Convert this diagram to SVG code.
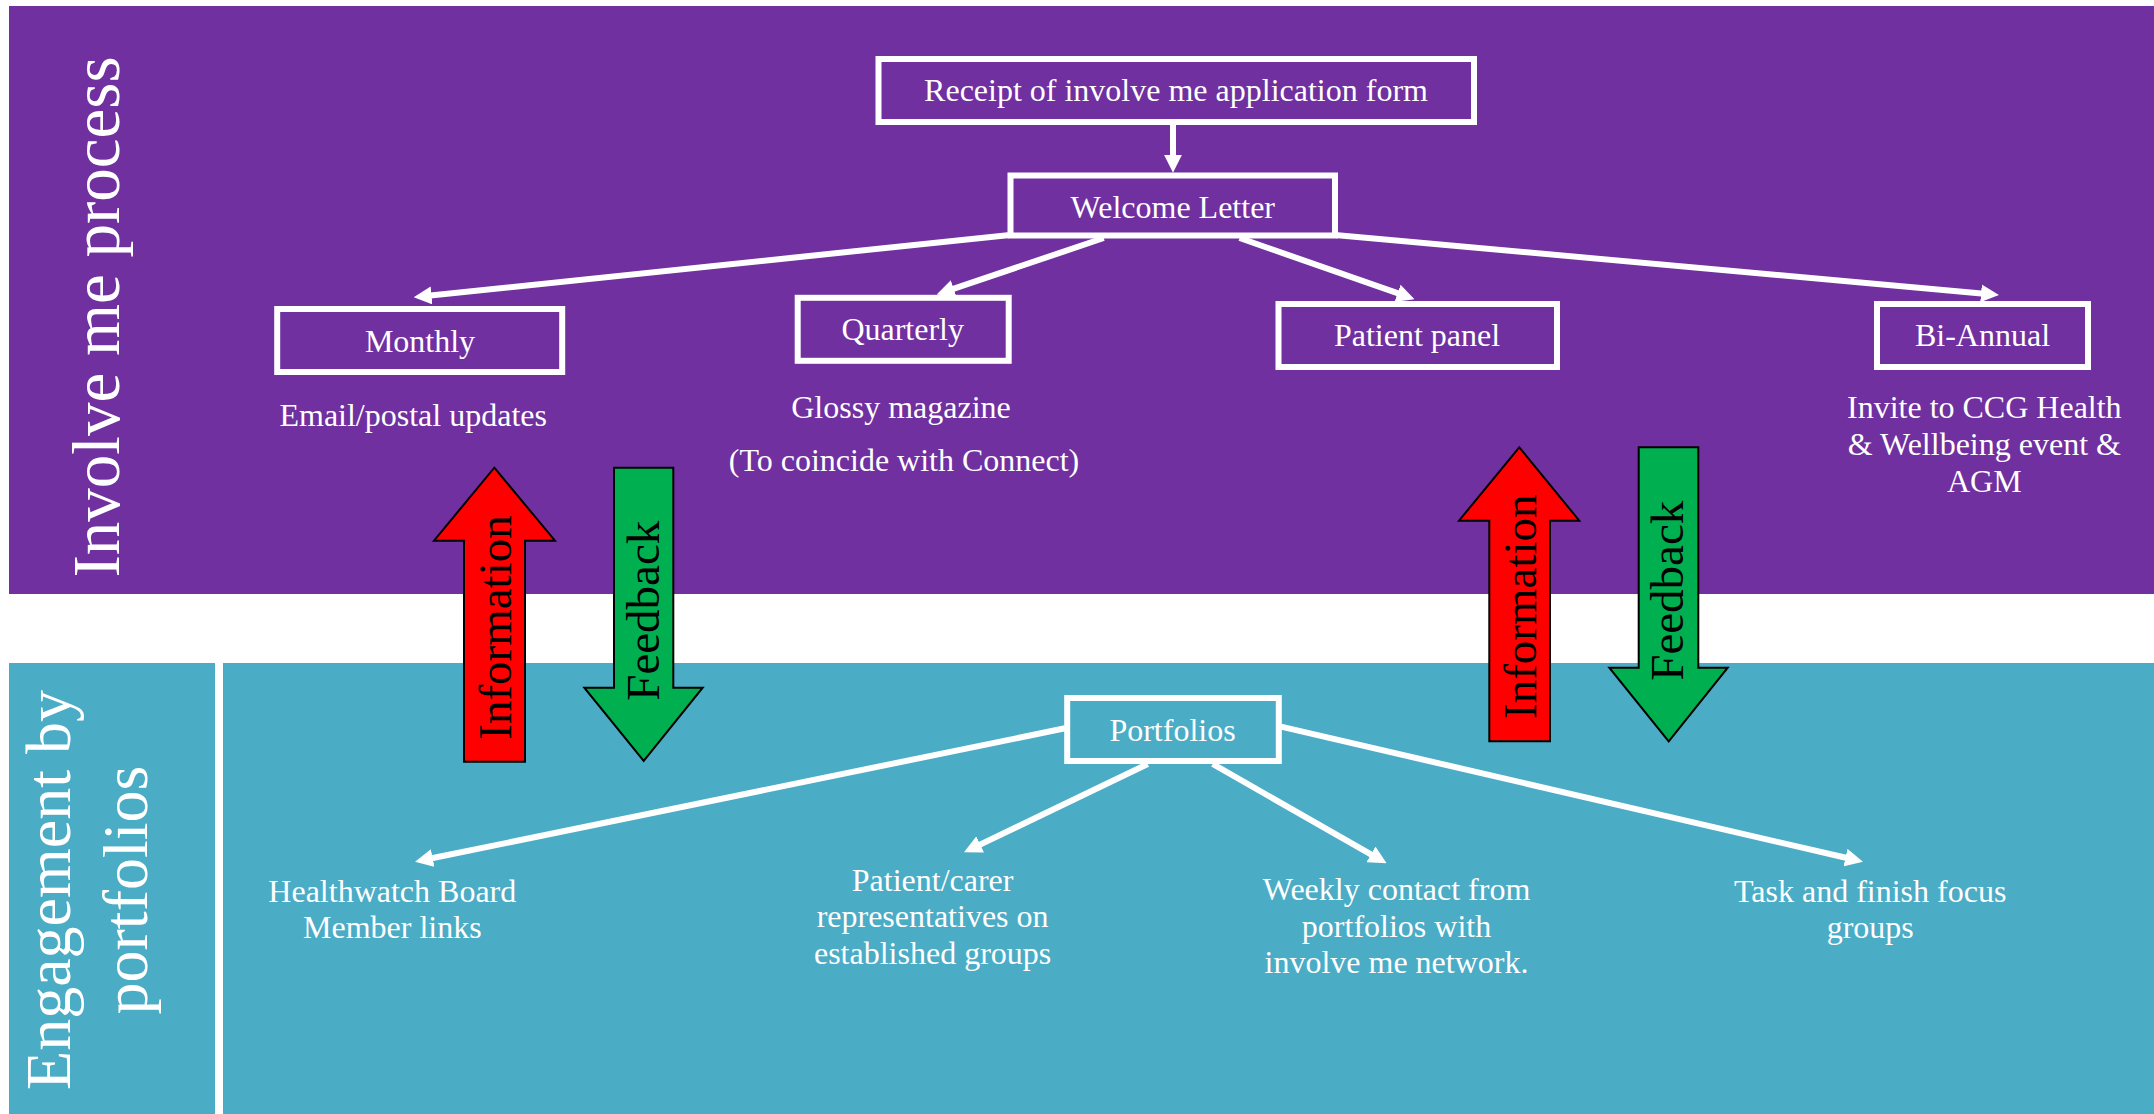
<svg xmlns="http://www.w3.org/2000/svg" width="2154" height="1114" viewBox="0 0 2154 1114">
<defs>
<style>
.t{font-family:"Liberation Serif","Times New Roman",serif;font-size:32px;fill:#fff;text-anchor:middle}
.side{font-family:"Liberation Serif","Times New Roman",serif;fill:#fff;text-anchor:middle}
.box{fill:none;stroke:#fff;stroke-width:6}
.con{stroke:#fff;stroke-width:6;fill:none;marker-end:url(#ah)}
.blk{stroke:#000;stroke-width:2;stroke-linejoin:miter}
.bt{font-family:"Liberation Serif","Times New Roman",serif;font-size:47px;fill:#000;text-anchor:middle}
</style>
<marker id="ah" markerUnits="userSpaceOnUse" markerWidth="18" markerHeight="18" refX="6" refY="9" orient="auto">
<path d="M0,0 L18,9 L0,18 z" fill="#fff"/>
</marker>
</defs>
<rect x="0" y="0" width="2154" height="1114" fill="#fff"/>
<rect x="9" y="6" width="2145" height="588" fill="#7030A0"/>
<rect x="9" y="663" width="206" height="451" fill="#4BACC6"/>
<rect x="223" y="663" width="1931" height="451" fill="#4BACC6"/>

<text class="side" font-size="67" transform="translate(119,317) rotate(-90)">Involve me process</text>
<text class="side" font-size="64" transform="translate(70,890) rotate(-90)">Engagement by</text>
<text class="side" font-size="64" transform="translate(147,890) rotate(-90)">portfolios</text>

<g id="connectors">
<line class="con" x1="1173" y1="125" x2="1173" y2="160.7"/>
<line class="con" x1="1010" y1="235" x2="425.6" y2="296.05"/>
<line class="con" x1="1103.7" y1="238" x2="948" y2="290.7"/>
<line class="con" x1="1239.6" y1="238" x2="1403.2" y2="295.2"/>
<line class="con" x1="1335" y1="235" x2="1987" y2="293.9"/>
<line class="con" x1="1065" y1="728.3" x2="426.8" y2="859.3"/>
<line class="con" x1="1147.7" y1="764" x2="974.8" y2="847.1"/>
<line class="con" x1="1212.7" y1="764" x2="1376.2" y2="857.35"/>
<line class="con" x1="1281" y1="726.7" x2="1851.3" y2="859"/>
</g>

<g id="receipt">
<rect class="box" x="878.5" y="59" width="595.5" height="63"/>
<text class="t" x="1176" y="101">Receipt of involve me application form</text>
</g>
<g id="welcome">
<rect class="box" x="1010.5" y="175.5" width="324.5" height="60"/>
<text class="t" x="1172.8" y="217.7">Welcome Letter</text>
</g>
<g id="monthly">
<rect class="box" x="277.2" y="309" width="285" height="63"/>
<text class="t" x="420" y="351.7">Monthly</text>
</g>
<g id="quarterly">
<rect class="box" x="797.7" y="297.8" width="211" height="63"/>
<text class="t" x="902.7" y="340">Quarterly</text>
</g>
<g id="patientpanel">
<rect class="box" x="1278.5" y="304" width="278.5" height="63"/>
<text class="t" x="1417" y="346">Patient panel</text>
</g>
<g id="biannual">
<rect class="box" x="1877" y="304" width="211" height="63"/>
<text class="t" x="1982.5" y="346">Bi-Annual</text>
</g>
<g id="portfolios">
<rect class="box" x="1067.2" y="698" width="211.6" height="63"/>
<text class="t" x="1172.5" y="741">Portfolios</text>
</g>

<g id="email">
<text class="t" x="413.2" y="426">Email/postal updates</text>
</g>
<g id="glossy">
<text class="t" x="901" y="418.3">Glossy magazine</text>
<text class="t" x="904" y="471">(To coincide with Connect)</text>
</g>
<g id="invite">
<text class="t" x="1984.3" y="418.3">Invite to CCG Health</text>
<text class="t" x="1984.3" y="455">&amp; Wellbeing event &amp;</text>
<text class="t" x="1984.3" y="491.7">AGM</text>
</g>
<g id="healthwatch">
<text class="t" x="392.3" y="901.7">Healthwatch Board</text>
<text class="t" x="392.3" y="938.3">Member links</text>
</g>
<g id="patientcarer">
<text class="t" x="932.6" y="890.7">Patient/carer</text>
<text class="t" x="932.6" y="927.3">representatives on</text>
<text class="t" x="932.6" y="964">established groups</text>
</g>
<g id="weekly">
<text class="t" x="1396.5" y="900">Weekly contact from</text>
<text class="t" x="1396.5" y="936.7">portfolios with</text>
<text class="t" x="1396.5" y="973.3">involve me network.</text>
</g>
<g id="task">
<text class="t" x="1870.2" y="901.7">Task and finish focus</text>
<text class="t" x="1870.2" y="938.3">groups</text>
</g>

<g id="info-left">
<polygon class="blk" fill="#FF0000" points="494.3,467.7 555,540.7 525,540.7 525,761.7 464,761.7 464,540.7 434,540.7"/>
<text class="bt" transform="translate(511,627.5) rotate(-90)">Information</text>
</g>
<g id="feedback-left">
<polygon class="blk" fill="#00B050" points="614,467.7 673.3,467.7 673.3,687.7 702.7,687.7 643.7,761 584.3,687.7 614,687.7"/>
<text class="bt" transform="translate(659,610.7) rotate(-90)">Feedback</text>
</g>
<g id="info-right">
<polygon class="blk" fill="#FF0000" points="1519.3,447.3 1579.3,520.7 1550,520.7 1550,741.3 1489.3,741.3 1489.3,520.7 1459,520.7"/>
<text class="bt" transform="translate(1536,606.7) rotate(-90)">Information</text>
</g>
<g id="feedback-right">
<polygon class="blk" fill="#00B050" points="1638.7,447.3 1698.3,447.3 1698.3,667.7 1727.7,667.7 1668.7,741.3 1609.3,667.7 1638.7,667.7"/>
<text class="bt" transform="translate(1683,590.7) rotate(-90)">Feedback</text>
</g>
</svg>
